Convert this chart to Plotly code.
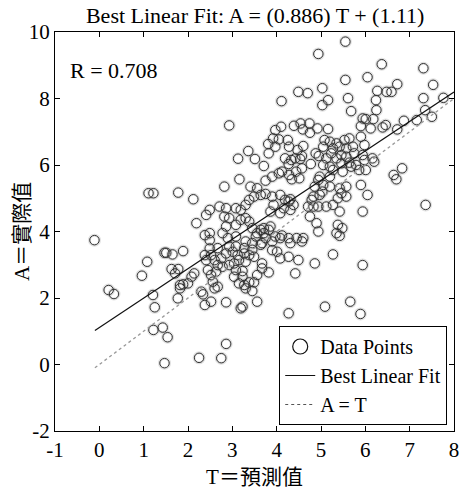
import plotly.graph_objects as go

# ---- data ----
pts = [
    (4.94,9.34),(4.49,8.20),(4.70,8.16),(5.03,8.31),(5.03,7.80),(4.11,7.92),(2.93,7.19),(3.97,7.05),(4.10,7.15),
    (4.39,7.18),(4.54,7.25),(4.74,7.25),(4.92,7.10),(4.59,7.07),(4.75,6.97),
    (3.92,6.80),(4.05,6.77),(3.81,6.63),(3.97,6.55),(4.25,6.75),(4.28,6.55),
    (4.60,6.57),(4.47,6.45),(4.88,6.35),(4.95,6.27),(3.82,6.35),
    (3.36,6.42),(3.13,6.19),(3.51,6.18),(3.71,5.97),
    (4.19,6.20),(4.33,6.15),(4.42,6.20),(4.53,6.18),(4.57,6.27),(4.77,6.03),(4.27,6.03),
    (4.12,5.80),(4.05,5.75),(4.28,5.70),(4.44,5.80),(4.57,5.90),(4.51,5.60),(4.34,5.57),(3.90,5.65),(3.75,5.53),(3.16,5.57),
    (2.82,5.35),
    (3.41,5.35),(3.56,5.30),(3.64,5.10),(3.49,5.05),(3.38,4.95),(3.75,5.13),(3.90,5.05),(4.08,5.10),(4.19,4.95),(4.31,4.97),
    (4.86,5.35),(4.94,5.55),(5.03,5.20),(4.83,5.05),
    (5.55,9.71),(6.37,9.03),(7.31,8.91),(5.55,8.56),(6.05,8.64),(6.72,8.43),(7.53,8.41),(6.27,8.23),(6.48,8.20),(6.59,8.20),
    (5.16,7.95),(5.61,8.01),(6.24,7.95),(7.31,8.01),(7.76,8.02),(5.68,7.62),(6.25,7.65),
    (5.94,7.40),(6.01,7.38),(6.18,7.38),(5.90,7.17),(6.12,7.10),(6.39,7.13),(6.46,7.20),(6.72,7.07),(6.87,7.33),(7.16,7.35),
    (7.50,7.45),(7.35,7.65),(5.16,7.08),
    (5.90,6.85),(5.64,6.80),(5.53,6.75),(5.35,6.65),(5.08,6.75),(5.20,6.70),(5.05,6.55),(5.27,6.50),(5.42,6.55),(5.57,6.50),
    (5.72,6.55),(5.98,6.60),(5.75,6.35),(5.46,6.30),(5.23,6.35),(5.12,6.20),(5.35,6.20),(5.57,6.25),(5.94,6.30),(6.16,6.20),
    (6.20,6.10),(5.98,6.15),(5.79,6.00),(5.64,6.07),(5.46,6.05),(5.20,5.95),(5.05,6.00),(5.27,5.85),(5.49,5.80),(5.68,5.95),
    (5.86,5.85),(6.01,5.85),(6.83,5.90),(6.64,5.70),(6.70,5.57),(5.90,5.40),
    (4.97,5.65),(5.20,5.65),(5.05,5.40),(5.20,5.35),(5.42,5.30),(5.57,5.35),(5.46,5.15),(5.57,5.05),(5.38,5.00),(4.97,5.10),(6.05,5.10),
    (1.11,5.15),(1.22,5.15),(1.78,5.17),(2.12,4.97),
    (2.49,4.65),(2.19,4.25),(-0.11,3.74),(2.38,3.89),(2.49,3.74),(2.49,3.49),(1.47,3.36),(1.51,3.36),(1.65,3.31),(1.89,3.41),
    (1.08,3.09),(0.96,2.67),(1.63,2.87),(1.78,2.87),(1.71,2.74),(2.14,2.74),(2.08,2.64),(1.82,2.39),(1.89,2.41),(2.00,2.44),
    (1.82,2.29),(2.30,2.19),(2.34,2.11),(2.38,1.79),(2.52,1.89),(0.21,2.24),(0.33,2.12),(1.21,2.09),(1.77,1.99),(1.25,1.72),
    (1.22,1.04),(1.43,1.11),(1.54,0.82),(1.47,0.04),(2.25,0.20),
    (4.27,1.54),(4.86,3.04),(4.42,2.74),(5.09,1.74),(3.56,1.89),(3.23,1.74),(3.19,1.69),(2.86,1.87),(2.86,0.62),(2.75,0.19),
    (3.30,2.29),(3.45,2.21),(3.38,2.47),(3.27,2.39),(3.15,2.44),(3.04,2.64),(3.23,2.64),(3.08,2.84),(3.23,2.81),(3.56,2.69),
    (3.67,2.89),(3.82,2.77),(3.67,3.04),(3.49,2.47),
    (2.63,2.79),(2.52,2.69),(2.45,2.84),(2.67,2.34),(2.60,2.29),(2.56,2.49),
    (2.41,3.14),(2.60,3.14),(2.75,3.19),(2.78,2.94),(2.67,2.99),(2.52,3.29),(2.38,3.29),(2.86,3.34),(3.01,3.39),(3.12,3.29),
    (3.27,3.34),(3.38,3.29),(3.49,3.24),(3.30,3.09),(3.15,3.14),(3.04,3.04),(2.93,2.99),
    (4.01,3.39),(4.08,3.19),(3.90,3.44),(4.27,3.24),(4.49,3.14),
    (4.08,3.80),(4.27,3.80),(4.12,3.88),(4.31,3.65),(4.45,3.80),(4.57,3.70),(4.60,3.80),(3.97,3.85),(3.90,3.70),(3.82,4.05),
    (3.71,4.10),(3.53,3.85),
    (4.90,4.25),(4.94,4.00),(4.75,4.45),(4.83,4.75),(4.94,4.75),(4.71,4.75),(4.79,4.95),
    (4.27,4.90),(4.38,4.80),(4.31,4.65),
    (3.30,4.80),(3.19,4.65),(3.08,4.70),(2.86,4.70),(2.71,4.75),(2.41,4.50),(2.82,4.45),(2.93,4.40),(3.30,4.40),(3.38,4.30),
    (3.19,4.35),(3.08,4.20),(2.86,4.15),(2.78,3.95),(2.90,3.80),(3.08,3.85),(3.30,3.70),(3.45,3.65),(3.64,3.60),(3.75,3.80),
    (3.64,4.05),(3.86,4.15),(3.45,4.10),(3.56,3.95),(3.71,3.95),(2.49,3.95),(2.67,3.50),(2.93,3.55),(3.08,3.55),(3.27,3.50),
    (3.45,3.45),(3.67,3.65),(3.93,4.80),(4.08,4.55),(4.16,4.70),(3.86,4.60),
    (5.12,4.75),(5.27,4.80),(5.42,4.60),(5.94,4.60),(5.38,4.20),(5.48,4.10),(5.35,3.95),(5.42,3.87),(7.36,4.80),(5.27,3.31),
    (5.94,2.99),(5.66,1.89),(5.89,1.52),
]
targets = [p[0] for p in pts]   # T
outputs = [p[1] for p in pts]   # A

slope = 0.886
intercept = 1.11
r_value = 0.708
line_T = [-0.1, 8.0]
fit_A = [slope * t + intercept for t in line_T]

x_ticks = [-1, 0, 1, 2, 3, 4, 5, 6, 7, 8]
y_ticks = [-2, 0, 2, 4, 6, 8, 10]

FONT = "Liberation Serif, Times New Roman, Noto Sans CJK TC, serif"

fig = go.Figure()
# faint halo under the markers
fig.add_trace(go.Scatter(x=targets, y=outputs, mode="markers", showlegend=False, hoverinfo="skip",
                         marker=dict(symbol="circle-open", size=10, color="rgba(170,170,170,0.35)",
                                     line=dict(width=3, color="rgba(170,170,170,0.35)"))))
fig.add_trace(go.Scatter(x=targets, y=outputs, mode="markers", showlegend=False,
                         marker=dict(symbol="circle-open", size=9.5, color="#333",
                                     line=dict(width=1, color="#333"))))
fig.add_trace(go.Scatter(x=line_T, y=fit_A, mode="lines", showlegend=False,
                         line=dict(color="#111", width=1.2)))
fig.add_trace(go.Scatter(x=line_T, y=line_T, mode="lines", showlegend=False,
                         line=dict(color="#999", width=1.3, dash="dot")))
# legend entries
fig.add_trace(go.Scatter(x=[None], y=[None], mode="markers", name="Data Points",
                         marker=dict(symbol="circle-open", size=15, color="#111", line=dict(width=1.2, color="#111"))))
fig.add_trace(go.Scatter(x=[None], y=[None], mode="lines", name="Best Linear Fit",
                         line=dict(color="#111", width=1.2)))
fig.add_trace(go.Scatter(x=[None], y=[None], mode="lines", name="A = T",
                         line=dict(color="#555", width=1.2, dash="dot")))

fig.add_annotation(x=-0.7, y=8.85, xref="x", yref="y", text=f"R = {r_value}", showarrow=False,
                   xanchor="left", yanchor="middle", font=dict(size=22, color="black", family=FONT))
# y-axis title
fig.add_annotation(x=-0.084, y=0.5, xref="paper", yref="paper", text="A＝實際值", showarrow=False,
                   textangle=-90, xanchor="center", yanchor="middle",
                   font=dict(size=21, color="black", family=FONT))

axis_common = dict(showline=True, linecolor="black", linewidth=1.2, mirror="ticks", ticks="inside",
                   ticklen=5, tickcolor="black", showgrid=False, zeroline=False,
                   ticklabeloverflow="allow",
                   tickfont=dict(size=21, color="black", family=FONT))

fig.update_layout(
    width=464, height=490,
    margin=dict(l=55, r=5, t=32, b=59),
    paper_bgcolor="white", plot_bgcolor="white",
    font=dict(family=FONT, size=21, color="black"),
    title=dict(text=f"Best Linear Fit: A = ({slope}) T + ({intercept})", x=0.55, xanchor="center",
               y=0.969, yanchor="middle", font=dict(size=22, color="black", family=FONT)),
    xaxis=dict(range=[-1, 8], tickvals=x_ticks, ticktext=[str(v) for v in x_ticks],
               title=dict(text="T＝預測值", standoff=8, font=dict(size=21, family=FONT)), **axis_common),
    yaxis=dict(range=[-2, 10], tickvals=y_ticks, ticktext=[str(v) for v in y_ticks], **axis_common),
    legend=dict(x=0.983, y=0.015, xanchor="right", yanchor="bottom", bgcolor="white",
                bordercolor="black", borderwidth=1, font=dict(size=20, family=FONT),
                tracegroupgap=0, itemwidth=30),
    showlegend=True,
)

fig.write_html("out.html")
